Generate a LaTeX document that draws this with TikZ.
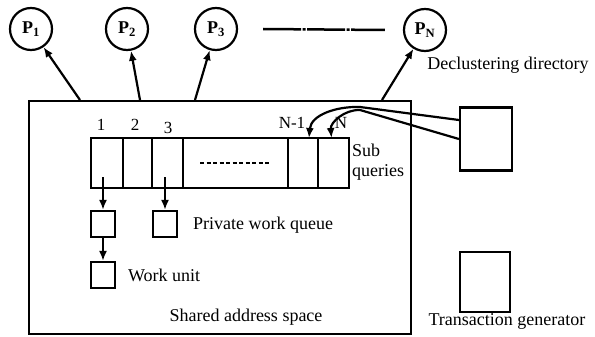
\documentclass[tikz,border=0pt]{standalone}
\usepackage{fontspec}
\setmainfont{Liberation Serif}
\usetikzlibrary{positioning,arrows.meta}

\begin{document}
\begin{tikzpicture}[x=1pt, y=-1pt, line width=2.2pt, >={Latex[length=10pt,width=8pt]},
    font=\fontsize{18}{20}\selectfont,
    proc/.style={draw, circle, minimum size=42pt, inner sep=0pt, font=\fontsize{18}{18}\selectfont\bfseries},
    cell/.style={draw, minimum height=50pt, inner sep=0pt, outer sep=0pt, anchor=west},
    qbox/.style={draw, minimum width=24pt, minimum height=26pt, inner sep=0pt},
    txt/.style={inner sep=0pt},
    num/.style={inner sep=0pt, font=\fontsize{17}{17}\selectfont}]
    \useasboundingbox (0,0) rectangle (595,337);

    % processors
    \node[proc] (p1) at (31,29) {P\textsubscript{1}};
    \node[proc] (p2) at (127,29) {P\textsubscript{2}};
    \node[proc] (p3) at (216,29) {P\textsubscript{3}};
    \node[proc] (pn) at (425,30) {P\textsubscript{N}};
    \draw[line width=2.5pt, dash pattern=on 38pt off 1.5pt on 3pt off 1.5pt]
        ([xshift=25pt]p3.east) -- ([xshift=-18pt]pn.west);

    % shared address space
    \node[draw, minimum width=382pt, minimum height=233pt, inner sep=0pt,
        anchor=north west] (space) at (28,100) {};
    \draw[->] ([xshift=52pt]space.north west) -- (p1);
    \draw[->] ([xshift=112pt]space.north west) -- (p2);
    \draw[->] ([xshift=167pt]space.north west) -- (p3);
    \draw[->] ([xshift=354pt]space.north west) -- (pn);
    \node[txt] (sas) at (246,317) {Shared address space};

    % sub queries
    \node[cell, minimum width=32pt] (c1) at (91,163) {};
    \node[cell, minimum width=29pt] (c2) at (c1.east) {};
    \node[cell, minimum width=31pt] (c3) at (c2.east) {};
    \node[cell, minimum width=105pt] (cdots) at (c3.east) {};
    \node[cell, minimum width=30pt] (cn1) at (cdots.east) {};
    \node[cell, minimum width=31pt] (cn) at (cn1.east) {};
    \draw[line width=2pt, dash pattern=on 4pt off 2.5pt]
        ([xshift=17pt]cdots.west) -- ([xshift=-18pt]cdots.east);
    \node[num] (l1) at (101,125) {1};
    \node[num] (l2) at (135,125) {2};
    \node[num] (l3) at (168,128) {3};
    \node[num] (ln1) at (292,123) {N-1};
    \node[num] (ln) at (341,123) {N};
    \node[txt, align=left, anchor=west] (subq) at (351,162) {Sub\\queries};

    % private work queues
    \node[qbox] (q1) at (103,224) {};
    \node[qbox] (q2) at (165,224) {};
    \node[qbox] (w1) at (103,275) {};
    \draw[->] ([xshift=12pt,yshift=11pt]c1.south west) -- (q1.north);
    \draw[->] ([xshift=13pt,yshift=11pt]c3.south west) -- (q2.north);
    \draw[->] (q1) -- (w1);
    \node[txt, anchor=west] (pwq) at (192,225) {Private work queue};
    \node[txt, anchor=west] (wu) at (127,275) {Work unit};

    % declustering directory and transaction generator
    \node[draw, minimum width=52pt, minimum height=63pt, inner sep=0pt] (dd) at (486,139) {};
    \node[txt] (ddl) at (508,65) {Declustering directory};
    \node[draw, minimum width=50pt, minimum height=60pt, inner sep=0pt] (tg) at (485,282) {};
    \node[txt] (tgl) at (507,321) {Transaction generator};
    \coordinate (j1) at (360,107);
    \coordinate (j2) at (360,110);
    \draw[->] ([yshift=19pt]dd.west) -- (j1) to[out=178, in=85] ([xshift=6pt]cn1.north);
    \draw[->] (dd.west) -- (j2) to[out=178, in=95] ([xshift=-2pt]cn.north);
\end{tikzpicture}
\end{document}
